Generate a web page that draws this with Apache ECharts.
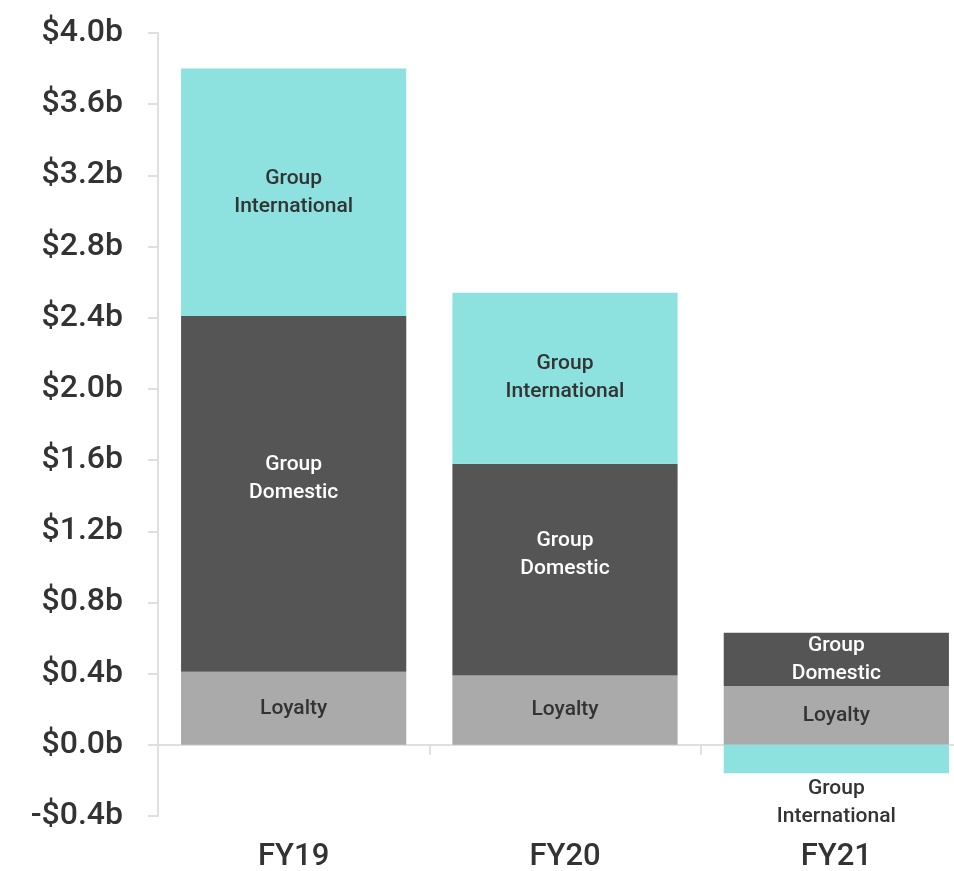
<!DOCTYPE html>
<html>
<head>
<meta charset="utf-8">
<script src="https://cdn.jsdelivr.net/npm/echarts@6/dist/echarts.min.js"></script>
<style>
  html, body { margin: 0; padding: 0; background: #fff; }
  #grafico { width: 954px; height: 871px; }
</style>
</head>
<body>
<div id="grafico"></div>
<script>
// dados (em bilhoes)
var anos = ['FY19', 'FY20', 'FY21'];
var loyalty = [0.41, 0.39, 0.33];
var domestic = [2.00, 1.19, 0.30];
var international = [1.39, 0.96, -0.16];

var fonte = 'Roboto, "Noto Sans", sans-serif';

function rotulo(cor) {
    return {
        show: true,
        position: 'inside',
        color: cor,
        fontFamily: fonte,
        fontSize: 21,
        fontWeight: 500,
        lineHeight: 28
    };
}

// nas barras altas o rotulo do domestic fica um pouco acima do centro
var dadosDomestic = domestic.map(function (v) {
    if (v > 1) {
        return { value: v, label: { offset: [0, -15] } };
    }
    return v;
});

// o FY21 internacional fica com o rotulo por baixo da barra
var dadosInternational = international.map(function (v) {
    if (v < 0) {
        return { value: v, label: { position: 'bottom', distance: 1 } };
    }
    return v;
});

var myChart = echarts.init(document.getElementById('grafico'));
var option = {
    animation: false,
    grid: { left: 158, right: -18, top: 33, bottom: 55, outerBoundsMode: 'none', containLabel: false },
    xAxis: {
        type: 'category',
        data: anos,
        axisLine: { lineStyle: { color: '#e0e0e0', width: 2 } },
        axisTick: { show: true, length: 10, lineStyle: { color: '#e0e0e0', width: 2 } },
        axisLabel: { color: '#333', fontFamily: fonte, fontSize: 31, fontWeight: 500, margin: 26 }
    },
    yAxis: {
        type: 'value',
        min: -0.4,
        max: 4.0,
        interval: 0.4,
        axisLine: { show: true, lineStyle: { color: '#e0e0e0', width: 2 } },
        axisTick: { show: true, length: 10, lineStyle: { color: '#e0e0e0', width: 2 } },
        splitLine: { show: false },
        axisLabel: {
            color: '#333',
            fontFamily: fonte,
            fontSize: 32,
            fontWeight: 500,
            margin: 35,
            formatter: function (v) {
                var s = '$' + Math.abs(v).toFixed(1) + 'b';
                return v < -1e-9 ? '-' + s : s;
            }
        }
    },
    series: [
        {
            name: 'Loyalty',
            type: 'bar',
            stack: 'total',
            barCategoryGap: '17%',
            data: loyalty,
            itemStyle: { color: '#aaaaaa' },
            label: Object.assign(rotulo('#333'), { formatter: 'Loyalty' })
        },
        {
            name: 'Group Domestic',
            type: 'bar',
            stack: 'total',
            data: dadosDomestic,
            itemStyle: { color: '#555555' },
            label: Object.assign(rotulo('#fff'), { formatter: 'Group\nDomestic' })
        },
        {
            name: 'Group International',
            type: 'bar',
            stack: 'total',
            data: dadosInternational,
            itemStyle: { color: '#8de2df' },
            label: Object.assign(rotulo('#333'), { formatter: 'Group\nInternational' })
        }
    ]
};
myChart.setOption(option);
</script>
</body>
</html>
